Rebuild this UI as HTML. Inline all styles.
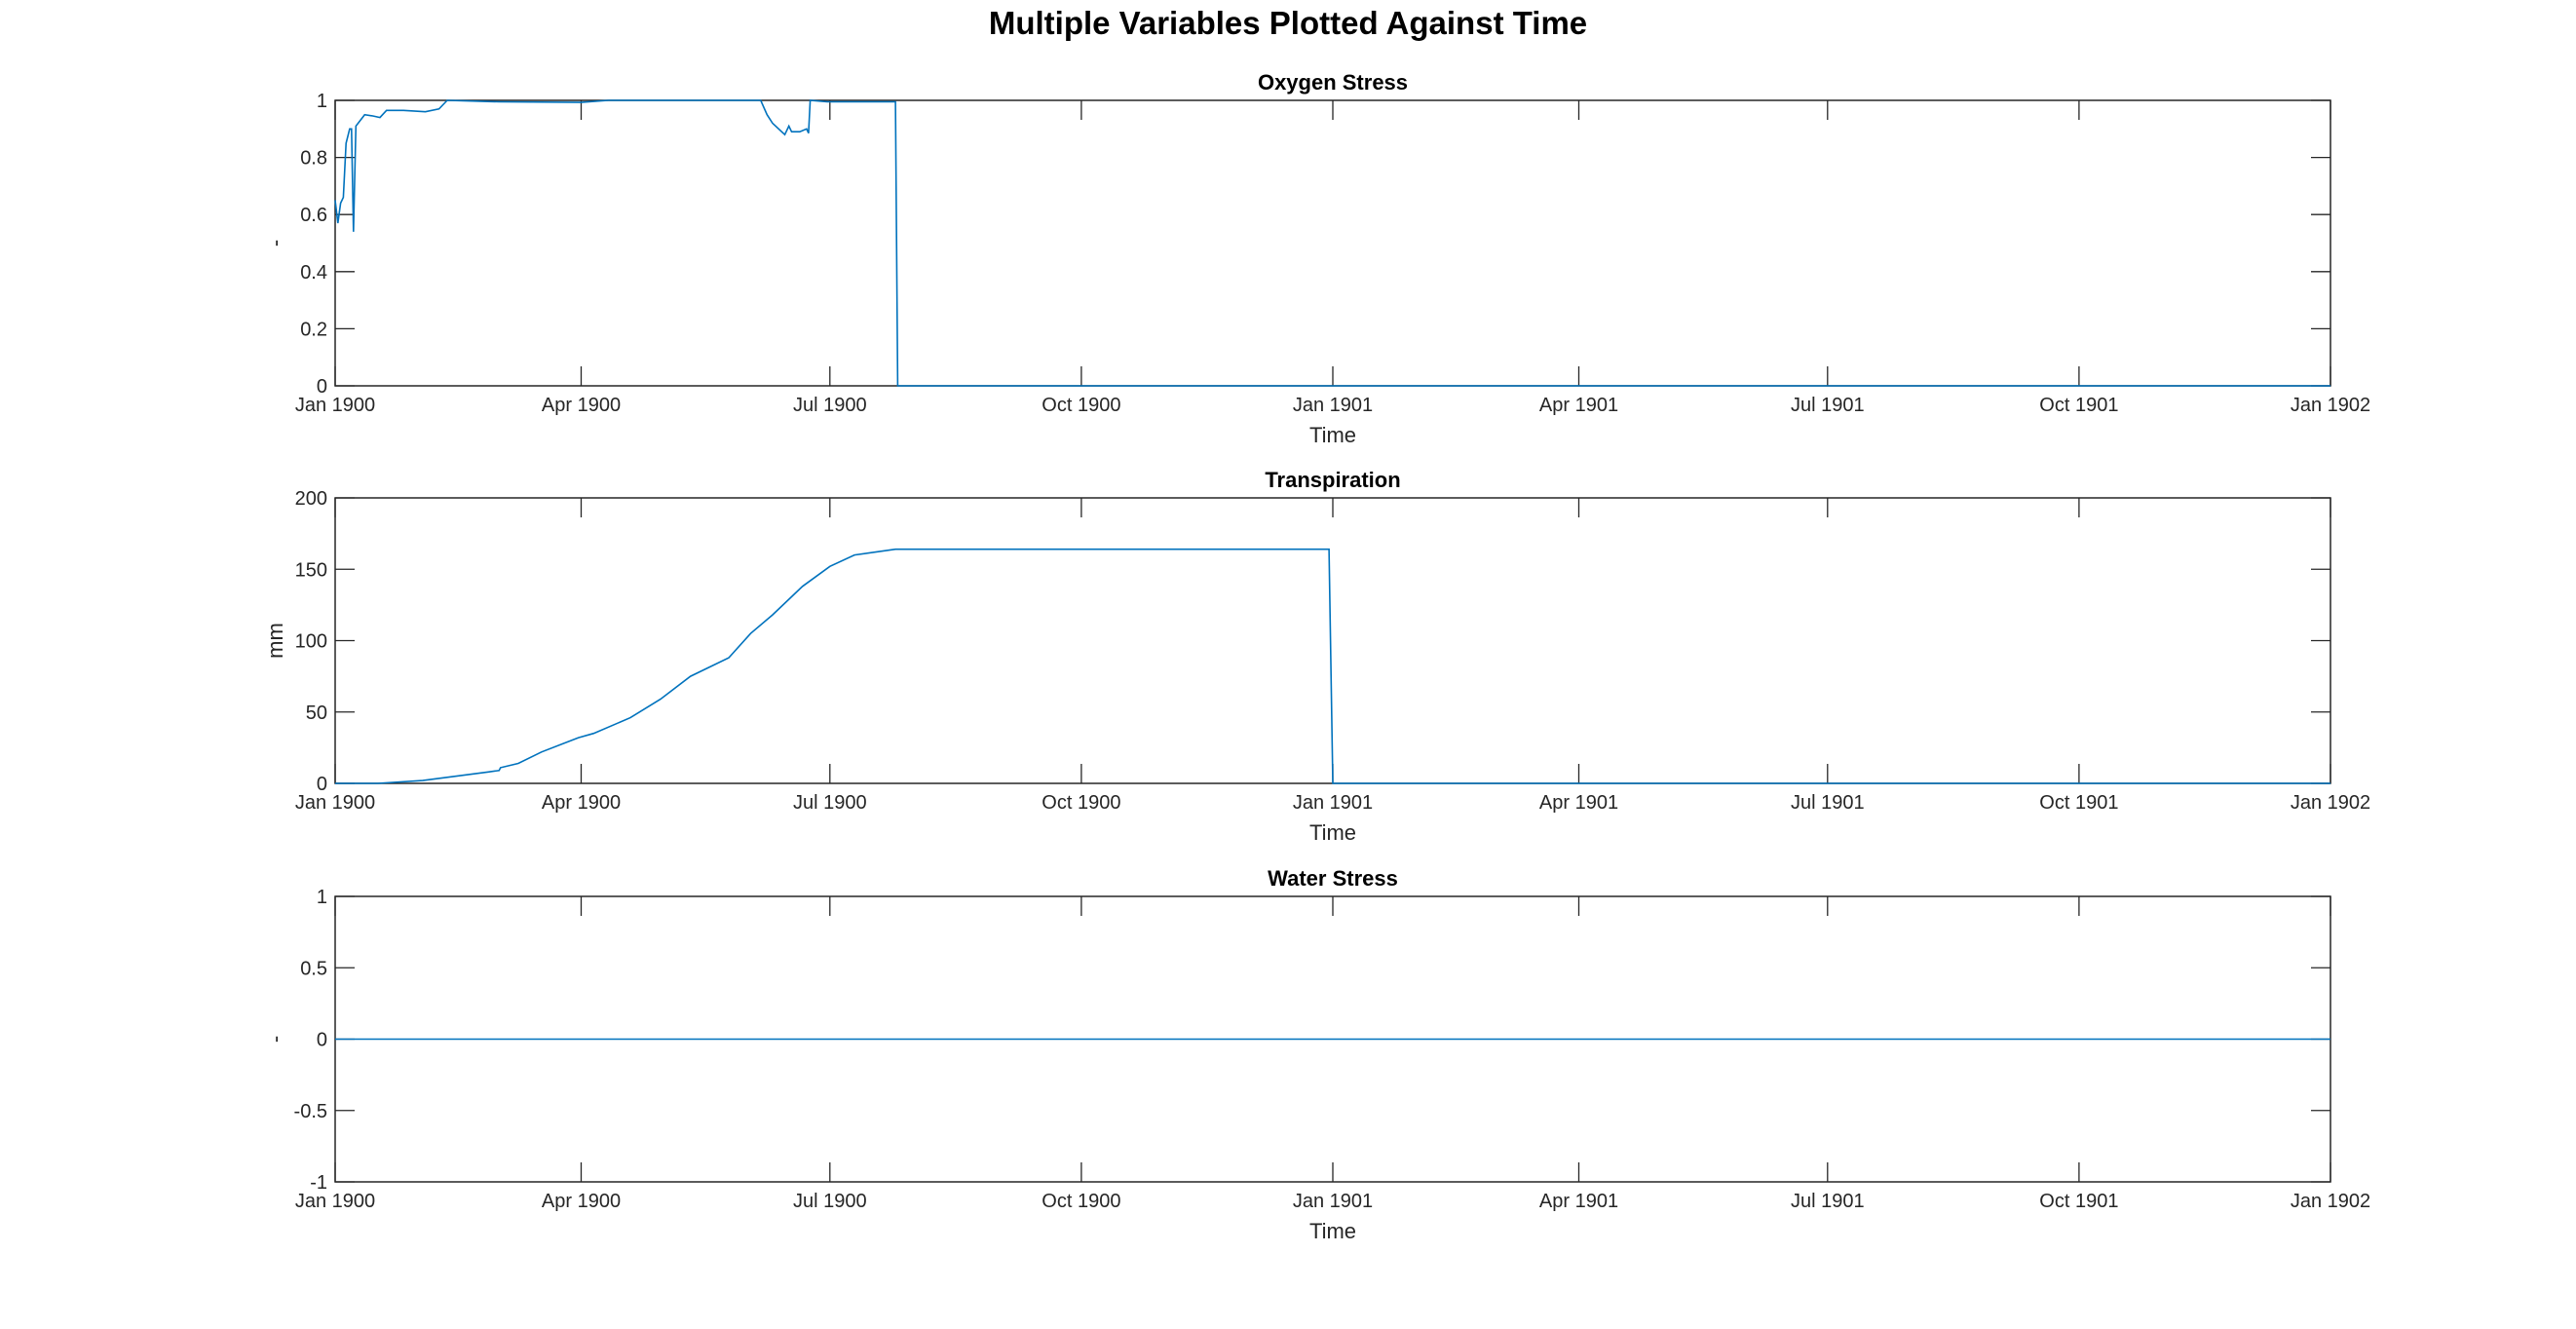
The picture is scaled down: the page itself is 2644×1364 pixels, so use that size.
<!DOCTYPE html>
<html><head><meta charset="utf-8"><style>
html,body{margin:0;padding:0;background:#fff;}
svg{display:block;font-family:"Liberation Sans",Arial,sans-serif;}
</style></head><body>
<svg id="fig" width="2644" height="1364" viewBox="0 0 2644 1364">
<rect width="2644" height="1364" fill="#fff"/>
<text x="1322" y="35" text-anchor="middle" font-size="33" font-weight="bold" fill="#000">Multiple Variables Plotted Against Time</text>
</svg>
<script>
// Shared x-axis data
const xTickDays = [0, 90, 181, 273, 365, 455, 546, 638, 730];
const xTickLabels = ['Jan 1900','Apr 1900','Jul 1900','Oct 1900','Jan 1901','Apr 1901','Jul 1901','Oct 1901','Jan 1902'];
// Oxygen stress series
const oxyDays = [0,1,2,3,4,5.3,6,6.7,7.6,10.8,14,16.4,18.8,25,33,38,41,60,90,100,120,155.7,158,160,164.5,166,167,170,172.5,173.2,173.8,180,205,205.8,730];
const oxyVals = [0.65,0.57,0.64,0.66,0.85,0.90,0.90,0.54,0.91,0.95,0.945,0.94,0.965,0.965,0.96,0.97,1.0,0.995,0.993,1.0,1.0,1.0,0.95,0.92,0.88,0.91,0.89,0.89,0.90,0.885,1.0,0.995,0.995,0,0];
const oxyTicks = [0,0.2,0.4,0.6,0.8,1];
const oxyTickLabels = ['0','0.2','0.4','0.6','0.8','1'];
// Transpiration series
const trDays = [0,15.5,32,56,60,60.5,67,75.5,89,94.6,108,119,130,144,152,160,171,181,190,205,363.6,365,730];
const trVals = [0,0,2,8,9,11,14,22,32,35,46,59,75,88,105,118,138,152,160,164,164,0,0];
const trTicks = [0,50,100,150,200];
const trTickLabels = ['0','50','100','150','200'];
// Water stress series
const wsDays = [0,730];
const wsVals = [0,0];
const wsTicks = [-1,-0.5,0,0.5,1];
const wsTickLabels = ['-1','-0.5','0','0.5','1'];

const svg = document.getElementById('fig');
const NS = 'http://www.w3.org/2000/svg';
const L = 344, R = 2392, X_MAX = 730;
function mk(tag, attrs, parent){ const e=document.createElementNS(NS,tag); for(const k in attrs) e.setAttribute(k,attrs[k]); (parent||svg).appendChild(e); return e; }

function panel(key, top, bottom, ymin, ymax, yTicks, yLabels, title, ylab, days, vals){
  const g = mk('g',{});
  
  
  const xs = d => L + (d/X_MAX)*(R-L);
  const ys = v => bottom - (v-ymin)/(ymax-ymin)*(bottom-top);
  const box = mk('rect',{x:L,y:top,width:R-L,height:bottom-top,fill:'#fff',stroke:'#262626','stroke-width':1.5},g);
  
  
  const tl = 20;
  xTickDays.forEach((d,i)=>{
    const x = xs(d);
    mk('line',{x1:x,y1:bottom,x2:x,y2:bottom-tl,stroke:'#262626','stroke-width':1.3},g);
    mk('line',{x1:x,y1:top,x2:x,y2:top+tl,stroke:'#262626','stroke-width':1.3},g);
    const t = mk('text',{x:x,y:bottom+26,'text-anchor':'middle','font-size':20,fill:'#262626'},g);
    t.textContent = xTickLabels[i];
    
    
  });
  yTicks.forEach((v,i)=>{
    const y = ys(v);
    mk('line',{x1:L,y1:y,x2:L+tl,y2:y,stroke:'#262626','stroke-width':1.3},g);
    mk('line',{x1:R,y1:y,x2:R-tl,y2:y,stroke:'#262626','stroke-width':1.3},g);
    const t = mk('text',{x:L-8,y:y+7,'text-anchor':'end','font-size':20,fill:'#262626'},g);
    t.textContent = yLabels[i];
    
    
  });
  const tt = mk('text',{x:(L+R)/2,y:top-11,'text-anchor':'middle','font-size':22,'font-weight':'bold',fill:'#000'},g);
  tt.textContent = title;
  
  
  const xl = mk('text',{x:(L+R)/2,y:bottom+58,'text-anchor':'middle','font-size':22,fill:'#262626'},g);
  xl.textContent = 'Time';
  
  
  const cy = (top+bottom)/2;
  const yl = mk('text',{x:290,y:cy,'text-anchor':'middle','font-size':22,fill:'#262626',transform:'rotate(-90 290 '+cy+')'},g);
  yl.textContent = ylab;
  
  
  const pts = days.map((d,i)=>xs(d).toFixed(1)+','+ys(vals[i]).toFixed(1)).join(' ');
  const pl = mk('polyline',{points:pts,fill:'none',stroke:'#0072BD','stroke-width':1.6},g);
  
  
}
panel('oxygen-stress',103,396,0,1,oxyTicks,oxyTickLabels,'Oxygen Stress','-',oxyDays,oxyVals);
panel('transpiration',511,804,0,200,trTicks,trTickLabels,'Transpiration','mm',trDays,trVals);
panel('water-stress',920,1213,-1,1,wsTicks,wsTickLabels,'Water Stress','-',wsDays,wsVals);
</script>
</body></html>
